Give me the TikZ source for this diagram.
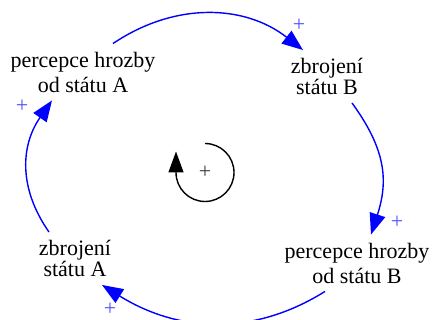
\documentclass[tikz,border=0pt]{standalone}
\usepackage{fontspec}
\setmainfont{Liberation Serif}
\usetikzlibrary{arrows.meta}
\definecolor{linkblue}{RGB}{0,0,255}
\definecolor{signblue}{RGB}{80,80,255}
\definecolor{signgray}{RGB}{60,60,60}

\begin{document}
\begin{tikzpicture}[x=1pt, y=1pt,
    perception/.style={align=center, font=\fontsize{22}{25}\selectfont, inner xsep=4pt, inner ysep=8pt},
    armament/.style={align=center, font=\fontsize{22}{21}\selectfont, inner xsep=4pt, inner ysep=8pt},
    link/.style={draw=linkblue, line width=1.4pt, -{Triangle[length=21pt, width=16pt]}},
    polarity/.style={text=signblue, font=\fontsize{22}{22}\selectfont, inner sep=0pt}]

    \useasboundingbox (0, 0) rectangle (436, 320);

    % Variables of the loop
    \node[perception] (percA) at (83, 248) {percepce hrozby\\od státu A};
    \node[armament] (zbrojB) at (327, 243.5) {zbrojení\\státu B};
    \node[perception] (percB) at (357, 57) {percepce hrozby\\od státu B};
    \node[armament] (zbrojA) at (75, 61.5) {zbrojení\\státu A};

    % Causal links
    \draw[link] ([xshift=30pt]percA.north) to[out=34, in=142] ([xshift=-24pt]zbrojB.north);
    \draw[link] ([xshift=25pt]zbrojB.south) to[out=-54, in=72, looseness=1.1] ([xshift=14pt]percB.north);
    \draw[link] ([xshift=-32pt]percB.south) to[out=212, in=-32] ([xshift=27pt]zbrojA.south);
    \draw[link] ([xshift=-26pt]zbrojA.north) to[out=125, in=235, looseness=1.05] ([xshift=-31pt]percA.south);

    % Link polarities
    \node[polarity] (polAB) at (299, 295) {+};
    \node[polarity] (polBB) at (397, 98) {+};
    \node[polarity] (polBA) at (110, 11) {+};
    \node[polarity] (polAA) at (22, 214) {+};

    % Loop polarity
    \node[polarity, text=signgray] (loopsign) at (205, 147.5) {+};
    \draw[black, line width=1.4pt, -{Triangle[length=21pt, width=15pt]}] ([yshift=29pt]loopsign.center) arc[start angle=90, end angle=-180, radius=29pt] -- ++(0, 21);

\end{tikzpicture}
\end{document}
